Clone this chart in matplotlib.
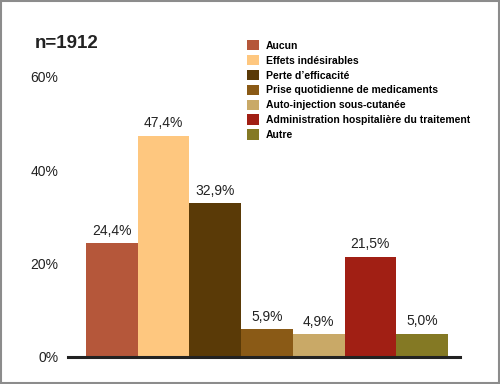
import matplotlib
matplotlib.use("Agg")
import matplotlib.pyplot as plt
from matplotlib.patches import Patch, Rectangle

plt.rcParams['font.family'] = ['Liberation Sans', 'DejaVu Sans']

categories = ["Aucun", "Effets indésirables", "Perte d\u2019efficacité",
              "Prise quotidienne de medicaments", "Auto-injection sous-cutanée",
              "Administration hospitalière du traitement", "Autre"]
values = [24.4, 47.4, 32.9, 5.9, 4.9, 21.5, 5.0]
colors = ["#B5573A", "#FEC77F", "#5A3A07", "#8A5A16", "#C9A967", "#A11F14", "#847924"]
yticks = [0, 20, 40, 60]

W, H = 500, 384
fig = plt.figure(figsize=(W/100, H/100), dpi=100)
fig.patch.set_facecolor("white")

ax = fig.add_axes([68/W, (H-357)/H, (460-68)/W, (357-77)/H])
x = list(range(len(values)))
ax.bar(x, values, width=1.0, color=colors, edgecolor="none")
ax.set_xlim(-0.5 - 18/51.7, 6.5 + 12/51.7)
ax.set_ylim(0, 60)
for xi, v in zip(x, values):
    ax.text(xi, v + 1.2, f"{v:.1f}%".replace(".", ","), ha="center", va="bottom",
            fontsize=10, color="#222222")
ax.set_yticks(yticks)
ax.set_yticklabels([f"{t}%" for t in yticks], fontsize=10, color="#222222")
ax.set_xticks([])
ax.tick_params(axis="y", length=0, pad=7)
for s in ["top", "right", "left"]:
    ax.spines[s].set_visible(False)
ax.spines["bottom"].set_linewidth(2.2)
ax.spines["bottom"].set_color("#222222")
ax.set_facecolor("none")

fig.text(35/W, 1 - 44/H, "n=1912", fontsize=13.5, fontweight="bold", va="center", ha="left",
         color="#222222")

handles = [Patch(facecolor=c, edgecolor="none") for c in colors]
fig.legend(handles, categories, loc="upper left", bbox_to_anchor=(245/W, 1 - 38/H),
           frameon=False, prop={"weight": "bold", "size": 7.5},
           handlelength=1.15, handleheight=1.15, labelspacing=0.4, handletextpad=0.65,
           borderaxespad=0, borderpad=0.2)

fig.add_artist(Rectangle((0.002, 0.003), 0.996, 0.994, transform=fig.transFigure,
                         fill=False, edgecolor="#8c8c8c", linewidth=1.5))

fig.savefig("out.png", dpi=100, facecolor="white")
